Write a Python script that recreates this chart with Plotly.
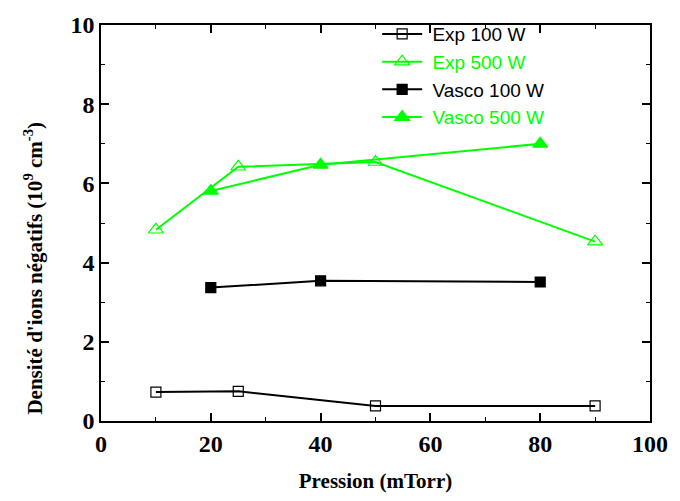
import plotly.graph_objects as go

exp100_x = [10, 25, 50, 90]
exp100_y = [0.73, 0.75, 0.38, 0.38]
exp500_x = [10, 25, 50, 90]
exp500_y = [4.83, 6.42, 6.54, 4.53]
vas100_x = [20, 40, 80]
vas100_y = [3.37, 3.54, 3.51]
vas500_x = [20, 40, 80]
vas500_y = [5.81, 6.47, 7.0]

GREEN = "#00ff00"
BLACK = "#000000"

fig = go.Figure()
series = [
    ("Exp 100 W", exp100_x, exp100_y, BLACK, "square-open", 10),
    ("Exp 500 W", exp500_x, exp500_y, GREEN, "triangle-up-open", 13),
    ("Vasco 100 W", vas100_x, vas100_y, BLACK, "square", 10),
    ("Vasco 500 W", vas500_x, vas500_y, GREEN, "triangle-up", 13),
]
for name, xs, ys, col, sym, sz in series:
    fig.add_trace(go.Scatter(
        x=xs, y=ys, mode="lines+markers",
        name=f"<span style='color:{col}'>\u00a0{name}</span>",
        line=dict(color=col, width=2),
        marker=dict(symbol=sym, size=sz, color=col,
                    line=dict(color=col, width=1.2)),
    ))

serif = "Liberation Serif"
axis_common = dict(
    showline=True, linecolor="black", linewidth=1.5, mirror="ticks",
    ticks="inside", ticklen=8, tickwidth=1.5, tickcolor="black",
    showgrid=False, zeroline=False,
    tickfont=dict(family=serif, size=24, color="black", weight="bold"),
)
fig.update_xaxes(
    range=[0, 100], dtick=20, tick0=0,
    minor=dict(dtick=10, ticks="inside", ticklen=4, tickwidth=1.2, tickcolor="black"),
    title=dict(text="<b>Pression (mTorr)</b>", font=dict(family=serif, size=21, color="black"), standoff=18),
    **axis_common,
)
fig.update_yaxes(
    range=[0, 10], dtick=2, tick0=0,
    minor=dict(dtick=1, ticks="inside", ticklen=4, tickwidth=1.2, tickcolor="black"),
    **axis_common,
)
fig.add_annotation(
    text="<b>Densité d'ions négatifs (10<sup>9</sup> cm<sup>-3</sup>)</b>",
    font=dict(family=serif, size=21, color="black"),
    xref="paper", yref="paper", x=-0.122, y=0.385,
    xanchor="center", yanchor="middle", textangle=-90, showarrow=False,
)
fig.update_layout(
    width=680, height=501,
    margin=dict(l=101, r=21, t=19, b=70),
    plot_bgcolor="white", paper_bgcolor="white",
    legend=dict(x=0.503, y=1.025, xanchor="left", yanchor="top",
                font=dict(family="Liberation Sans", size=19, color="black"),
                bgcolor="rgba(0,0,0,0)", tracegroupgap=0, itemwidth=40),
)
fig.write_html("out.html", config={"displayModeBar": False},
               post_script="document.body.style.margin='0';document.body.style.overflow='hidden';")
